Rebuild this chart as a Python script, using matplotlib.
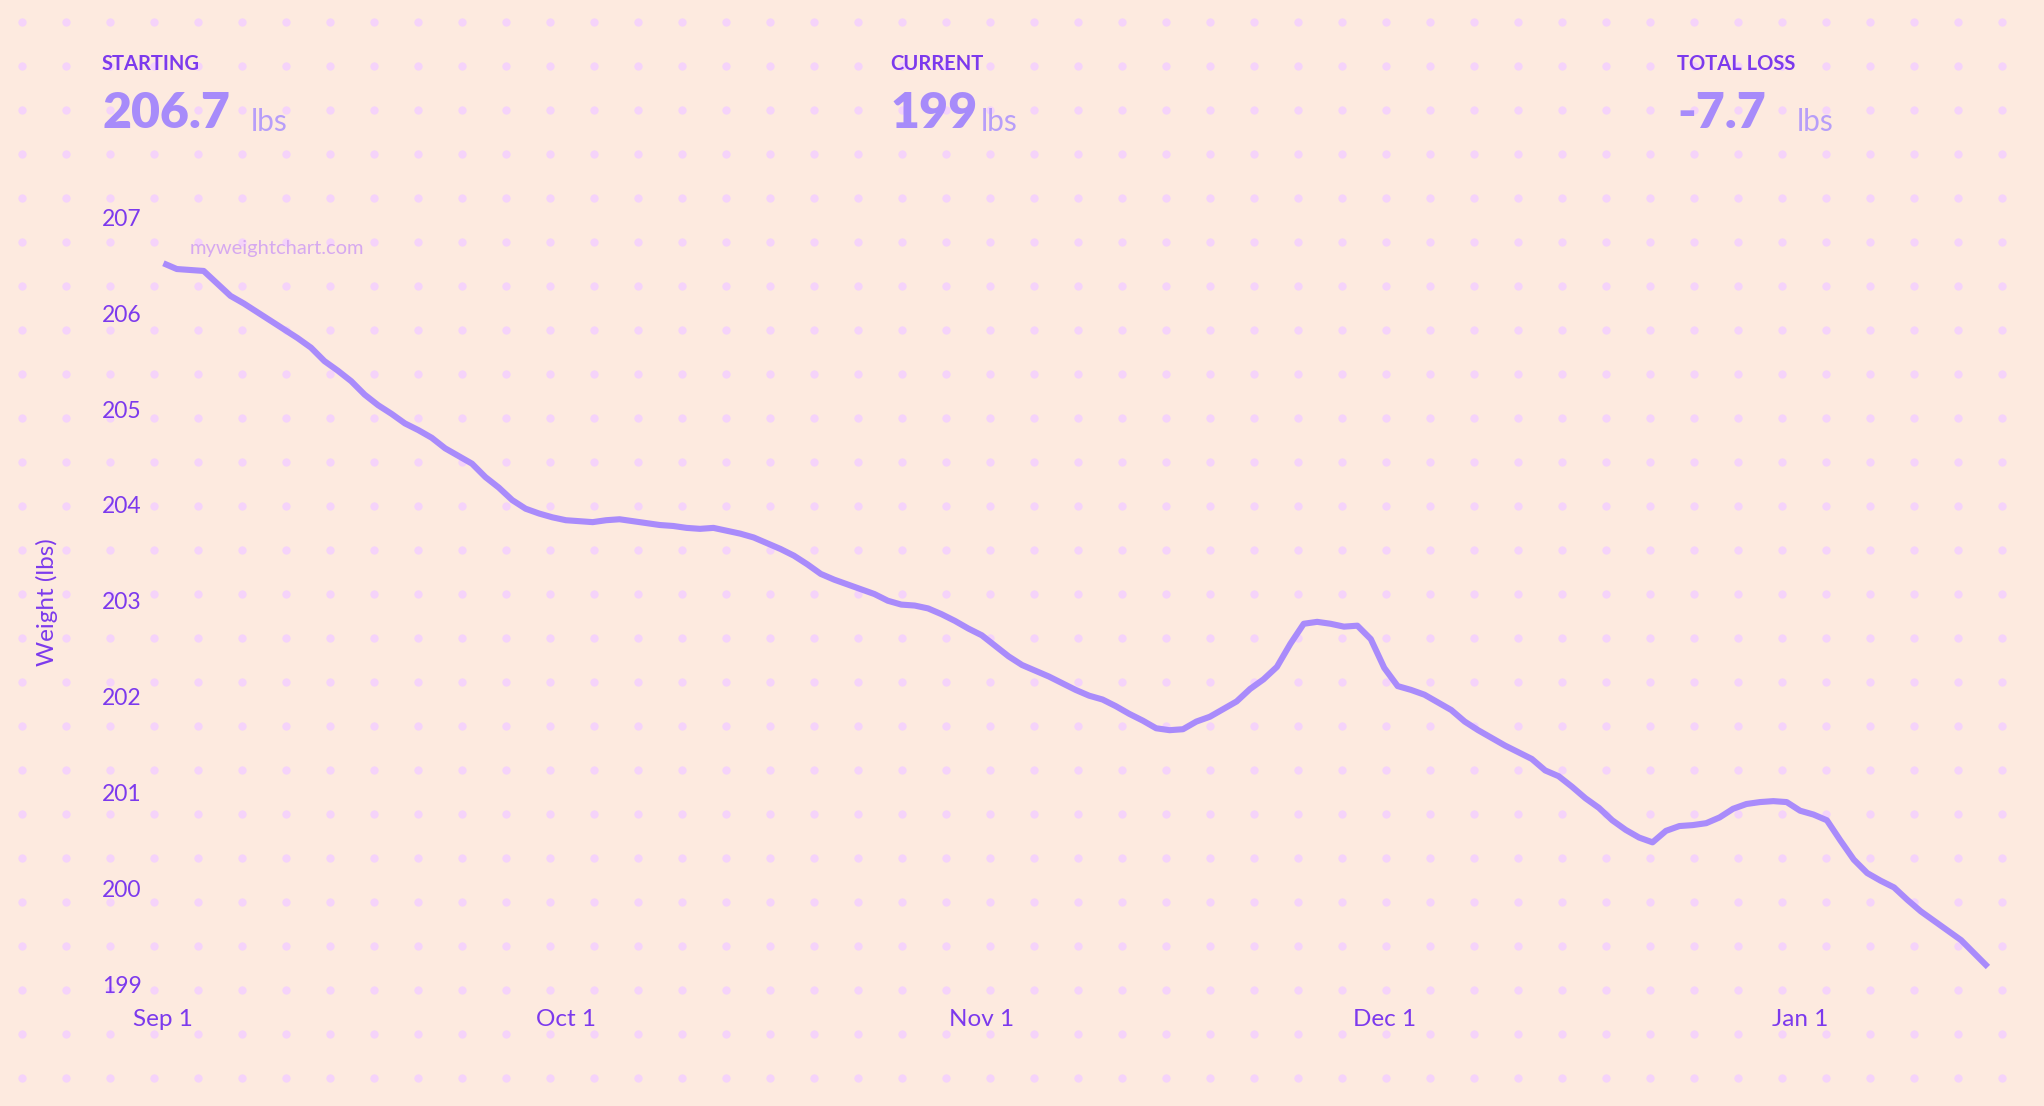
import matplotlib
matplotlib.use("Agg")
import matplotlib.pyplot as plt
import numpy as np
import pandas as pd

## 数据：每日体重（lbs），从 9 月 1 日开始
start_date = "2023-09-01"
weights = [
    206.52, 206.46, 206.45, 206.44, 206.31, 206.18, 206.10, 206.01, 205.92, 205.83,
    205.74, 205.64, 205.50, 205.40, 205.29, 205.15, 205.04, 204.95, 204.85, 204.78,
    204.70, 204.59, 204.51, 204.43, 204.29, 204.18, 204.05, 203.96, 203.91, 203.87,
    203.84, 203.83, 203.82, 203.84, 203.85, 203.83, 203.81, 203.79, 203.78, 203.76,
    203.75, 203.76, 203.73, 203.70, 203.66, 203.60, 203.54, 203.47, 203.38, 203.28,
    203.22, 203.17, 203.12, 203.07, 203.00, 202.96, 202.95, 202.92, 202.86, 202.79,
    202.71, 202.64, 202.53, 202.42, 202.33, 202.27, 202.21, 202.14, 202.07, 202.01,
    201.97, 201.90, 201.82, 201.75, 201.67, 201.65, 201.66, 201.74, 201.79, 201.87,
    201.95, 202.08, 202.18, 202.31, 202.55, 202.76, 202.78, 202.76, 202.73, 202.74,
    202.60, 202.30, 202.11, 202.07, 202.02, 201.94, 201.86, 201.74, 201.65, 201.57,
    201.49, 201.42, 201.35, 201.23, 201.17, 201.06, 200.94, 200.84, 200.71, 200.61,
    200.53, 200.48, 200.60, 200.65, 200.66, 200.68, 200.74, 200.83, 200.88, 200.90,
    200.91, 200.90, 200.81, 200.77, 200.71, 200.50, 200.30, 200.16, 200.08, 200.01,
    199.88, 199.76, 199.66, 199.56, 199.46, 199.32, 199.18,
]
y_ticks = [199, 200, 201, 202, 203, 204, 205, 206, 207]
x_ticks = ["2023-09-01", "2023-10-01", "2023-11-01", "2023-12-01", "2024-01-01"]
x_tick_labels = ["Sep 1", "Oct 1", "Nov 1", "Dec 1", "Jan 1"]

stat_titles = ["STARTING", "CURRENT", "TOTAL LOSS"]
stat_values = ["206.7", "199", "-7.7"]

## 颜色
BG = "#FDEADF"
DOT = "#F5D3FA"
LINE = "#A98BFB"
DARK = "#7C3AED"
NUM = "#A78BFA"
UNIT = "#B79EF9"
MARK = "#D6A9F0"

plt.rcParams["font.family"] = ["Lato", "DejaVu Sans"]

W, H = 2044, 1106
fig = plt.figure(figsize=(W / 100, H / 100), dpi=100, facecolor=BG)

## 背景点阵
bg = fig.add_axes([0, 0, 1, 1], zorder=0)
bg.set_xlim(0, W)
bg.set_ylim(H, 0)
bg.axis("off")
gx, gy = np.meshgrid(np.arange(22, W, 44), np.arange(22, H, 44))
bg.scatter(gx.ravel(), gy.ravel(), s=36, color=DOT, linewidths=0)

def fx(px):
    return px / W

def fy(py):
    return 1 - py / H

## 主图区域
left, right, top, bottom = 150, 2000, 200, 990
ax = fig.add_axes([fx(left), fy(bottom), fx(right) - fx(left), fy(top) - fy(bottom)], zorder=1)
ax.patch.set_alpha(0)

dates = pd.date_range(start_date, periods=len(weights), freq="D")
ax.plot(dates, weights, color=LINE, lw=4.4, solid_capstyle="butt", solid_joinstyle="round")

d0 = pd.Timestamp(start_date)
ax.set_xlim(d0 - pd.Timedelta(days=1.0), d0 + pd.Timedelta(days=136.9))
ax.set_ylim(198.94, 207.18)

for s in ax.spines.values():
    s.set_visible(False)

ax.set_yticks(y_ticks)
ax.set_yticklabels([str(v) for v in y_ticks])
ax.tick_params(axis="y", length=0, pad=48 * 0.72, labelsize=16.5, labelcolor=DARK)
for lab in ax.get_yticklabels():
    lab.set_ha("left")

ax.set_xticks(pd.to_datetime(x_ticks))
ax.set_xticklabels(x_tick_labels)
ax.tick_params(axis="x", length=0, pad=30 * 0.72, labelsize=17.5, labelcolor=DARK)
for lab in ax.get_xticklabels():
    lab.set_va("center")

fig.text(fx(47), fy(602), "Weight (lbs)", rotation=90, ha="center", va="center",
         fontsize=17.5, color=DARK)
fig.text(fx(190), fy(249), "myweightchart.com", ha="left", va="center",
         fontsize=14.5, color=MARK)

## 顶部统计
col_x = [102, 890, 1677]
unit_x = [251, 981, 1797]
for cx, ux, t, v in zip(col_x, unit_x, stat_titles, stat_values):
    fig.text(fx(cx), fy(70), t, ha="left", va="baseline", fontsize=14.5,
             fontweight="bold", color=DARK)
    fig.text(fx(cx), fy(128), v, ha="left", va="baseline", fontsize=36,
             fontweight="heavy", color=NUM)
    fig.text(fx(ux), fy(131), "lbs", ha="left", va="baseline", fontsize=21.5,
             color=UNIT)

fig.savefig("out.png", dpi=100, facecolor=BG)
